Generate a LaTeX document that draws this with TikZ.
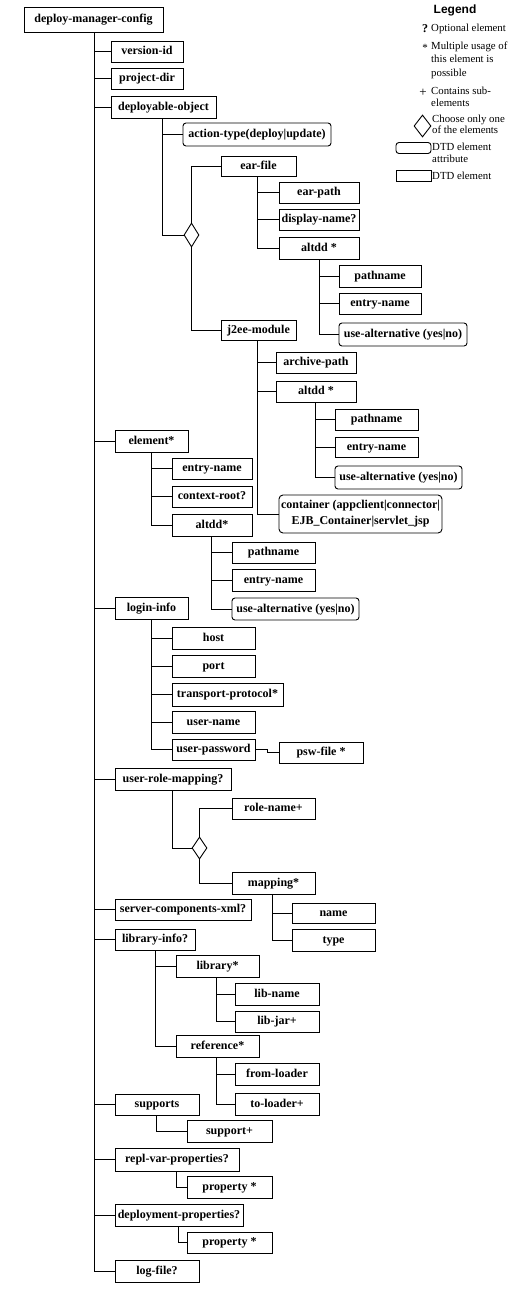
\documentclass[tikz,border=0pt]{standalone}
\usepackage{fontspec}
\setmainfont{Liberation Serif}
\newfontfamily\legsans{Liberation Sans}
\usetikzlibrary{shapes.geometric}
\tikzset{
  base/.style={draw, rectangle, inner sep=0pt, line width=0.9pt, font=\bfseries\fontsize{12}{14}\selectfont},
  box/.style={base, text height=8.5pt, text depth=2.5pt},
  attr/.style={box, rounded corners=3pt},
  attrtwo/.style={base, rounded corners=4pt, align=center, font=\bfseries\fontsize{12}{16}\selectfont},
  conn/.style={line width=0.9pt},
  choice/.style={draw, diamond, inner sep=0pt, line width=0.9pt},
  legtext/.style={anchor=base west, inner sep=0pt, font=\fontsize{10.8}{12}\selectfont},
}
\newcommand\dtdbox[7][box]{\node[#1, minimum width={#5-#3}, minimum height={#6-#4}] (#2) at ({(#3+#5)/2},{(#4+#6)/2}) {#7};}
\begin{document}
\begin{tikzpicture}[x=1pt,y=-1pt]
\useasboundingbox (0,0) rectangle (526,1290);
% ---- nodes ----
\dtdbox{root}{24}{7}{163}{32}{deploy-manager-config}
\dtdbox{vid}{111}{41}{183}{62}{version-id}
\dtdbox{pdir}{111}{68}{183}{89}{project-dir}
\dtdbox{dobj}{111}{96}{216}{118}{deployable-object}
\dtdbox[attr]{action}{183}{123}{331}{146}{action-type(deploy|update)}
\node[choice, minimum width=15, minimum height=24] (d1) at (191.5,235) {};
\dtdbox{ear}{221}{156}{296}{176}{ear-file}
\dtdbox{earpath}{279}{182}{359}{203}{ear-path}
\dtdbox{dispname}{279}{209}{359}{230}{display-name?}
\dtdbox{altdda}{279}{237}{359}{259}{altdd *}
\dtdbox{patha}{339}{265}{421}{287}{pathname}
\dtdbox{entrya}{339}{293}{421}{314}{entry-name}
\dtdbox[attr]{usealta}{339}{323}{467}{346}{use-alternative (yes|no)}
\dtdbox{j2ee}{221}{320}{296}{340}{j2ee-module}
\dtdbox{archive}{276}{352}{356}{373}{archive-path}
\dtdbox{altddb}{276}{381}{356}{402}{altdd *}
\dtdbox{pathb}{335}{409}{418}{430}{pathname}
\dtdbox{entryb}{335}{437}{418}{457}{entry-name}
\dtdbox[attr]{usealtb}{335}{466}{462}{489}{use-alternative (yes|no)}
\dtdbox[attrtwo]{container}{279}{495}{442}{533}{container (appclient|connector|\\EJB\_Container|servlet\_jsp}
\dtdbox{elem}{115}{430}{188}{452}{element*}
\dtdbox{entryc}{172}{458}{252}{479}{entry-name}
\dtdbox{ctxroot}{172}{486}{252}{507}{context-root?}
\dtdbox{altddc}{172}{514}{252}{536}{altdd*}
\dtdbox{pathc}{232}{542}{315}{563}{pathname}
\dtdbox{entryd}{232}{569}{315}{591}{entry-name}
\dtdbox[attr]{usealtc}{232}{598}{359}{620}{use-alternative (yes|no)}
\dtdbox{login}{115}{597}{188}{619}{login-info}
\dtdbox{host}{172}{627}{255}{649}{host}
\dtdbox{port}{172}{655}{255}{677}{port}
\dtdbox{tproto}{172}{683}{283}{706}{transport-protocol*}
\dtdbox{uname}{172}{711}{255}{733}{user-name}
\dtdbox{upass}{172}{739}{255}{760}{user-password}
\dtdbox{psw}{279}{742}{363}{763}{psw-file *}
\dtdbox{urm}{115}{768}{231}{790}{user-role-mapping?}
\node[choice, minimum width=15, minimum height=22] (d2) at (199.5,848) {};
\dtdbox{role}{232}{798}{315}{819}{role-name+}
\dtdbox{mapping}{232}{872}{315}{894}{mapping*}
\dtdbox{name}{292}{903}{375}{923}{name}
\dtdbox{type}{292}{929}{375}{951}{type}
\dtdbox{scx}{115}{899}{251}{920}{server-components-xml?}
\dtdbox{libinfo}{115}{929}{195}{950}{library-info?}
\dtdbox{library}{176}{955}{259}{977}{library*}
\dtdbox{libname}{235}{983}{319}{1005}{lib-name}
\dtdbox{libjar}{235}{1011}{319}{1032}{lib-jar+}
\dtdbox{reference}{176}{1035}{259}{1057}{reference*}
\dtdbox{fromloader}{235}{1063}{319}{1085}{from-loader}
\dtdbox{toloader}{235}{1093}{319}{1115}{to-loader+}
\dtdbox{supports}{115}{1094}{199}{1115}{supports}
\dtdbox{support}{187}{1120}{272}{1142}{support+}
\dtdbox{repl}{115}{1148}{239}{1171}{repl-var-properties?}
\dtdbox{propa}{187}{1176}{272}{1198}{property *}
\dtdbox{deplprops}{115}{1204}{243}{1226}{deployment-properties?}
\dtdbox{propb}{187}{1232}{272}{1253}{property *}
\dtdbox{logfile}{115}{1260}{199}{1282}{log-file?}
% ---- connectors ----
\foreach \c in {vid,pdir,dobj,elem,login,urm,scx,libinfo,supports,repl,deplprops,logfile}
  \draw[conn] ([xshift=71pt]root.south west) |- (\c.west);
\draw[conn] ([xshift=52pt]dobj.south west) |- (action.west);
\draw[conn] ([xshift=52pt]dobj.south west) |- (d1.west);
\draw[conn] (d1.north) |- (ear.west);
\draw[conn] (d1.south) |- (j2ee.west);
\foreach \c in {earpath,dispname,altdda}
  \draw[conn] ([xshift=37pt]ear.south west) |- (\c.west);
\foreach \c in {patha,entrya,usealta}
  \draw[conn] ([xshift=41pt]altdda.south west) |- (\c.west);
\foreach \c in {archive,altddb,container}
  \draw[conn] ([xshift=37pt]j2ee.south west) |- (\c.west);
\foreach \c in {pathb,entryb,usealtb}
  \draw[conn] ([xshift=40pt]altddb.south west) |- (\c.west);
\foreach \c in {entryc,ctxroot,altddc}
  \draw[conn] ([xshift=37pt]elem.south west) |- (\c.west);
\foreach \c in {pathc,entryd,usealtc}
  \draw[conn] ([xshift=40pt]altddc.south west) |- (\c.west);
\foreach \c in {host,port,tproto,uname,upass}
  \draw[conn] ([xshift=37pt]login.south west) |- (\c.west);
\draw[conn] (upass.east) -- ++(12,0) |- (psw.west);
\draw[conn] ([xshift=58pt]urm.south west) |- (d2.west);
\draw[conn] (d2.north) |- (role.west);
\draw[conn] (d2.south) |- (mapping.west);
\foreach \c in {name,type}
  \draw[conn] ([xshift=41pt]mapping.south west) |- (\c.west);
\foreach \c in {library,reference}
  \draw[conn] ([xshift=41pt]libinfo.south west) |- (\c.west);
\foreach \c in {libname,libjar}
  \draw[conn] ([xshift=41pt]library.south west) |- (\c.west);
\foreach \c in {fromloader,toloader}
  \draw[conn] ([xshift=41pt]reference.south west) |- (\c.west);
\draw[conn] ([xshift=42pt]supports.south west) |- (support.west);
\draw[conn] ([xshift=62pt]repl.south west) |- (propa.west);
\draw[conn] ([xshift=64pt]deplprops.south west) |- (propb.west);
% ---- legend ----
\node[font=\legsans\bfseries\fontsize{12}{14}\selectfont, inner sep=0pt] (legtitle) at (455,10) {Legend};
\node[font=\bfseries\fontsize{12}{14}\selectfont, anchor=base, inner sep=0pt] (legq) at (425,33) {?};
\node[legtext] (legqt) at (431,32) {Optional element};
\node[font=\fontsize{11}{12}\selectfont, anchor=base, inner sep=0pt] (legs) at (425,52) {*};
\node[legtext] (legst1) at (431,49) {Multiple usage of};
\node[legtext] (legst2) at (431,63) {this element is};
\node[legtext] (legst3) at (431,77) {possible};
\node[font=\fontsize{13}{14}\selectfont, anchor=base, inner sep=0pt] (legp) at (423,96) {+};
\node[legtext] (legpt1) at (431,95) {Contains sub-};
\node[legtext] (legpt2) at (431,106) {elements};
\node[choice, minimum width=17, minimum height=22] (legd) at (422.5,126) {};
\node[legtext] (legdt1) at (432,122) {Choose only one};
\node[legtext] (legdt2) at (432,133) {of the elements};
\dtdbox[attr]{legattr}{396}{143}{431}{153}{}
\node[legtext] (legat1) at (432,150.5) {DTD element};
\node[legtext] (legat2) at (432,162.5) {attribute};
\dtdbox{legelem}{396}{171}{431}{181}{}
\node[legtext] (legel) at (432,179) {DTD element};
\end{tikzpicture}
\end{document}
